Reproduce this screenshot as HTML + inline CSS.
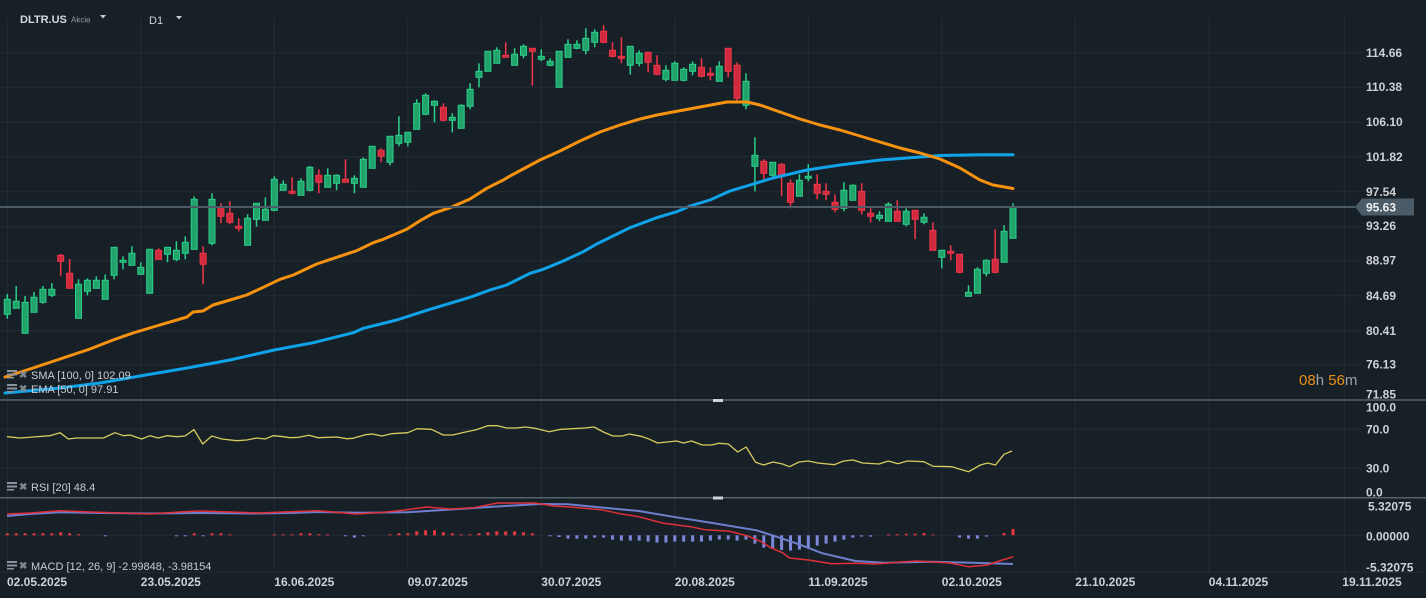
<!DOCTYPE html>
<html><head><meta charset="utf-8"><style>
html,body{margin:0;padding:0;background:#182027;}
svg{display:block;font-family:"Liberation Sans",sans-serif;}
.ax{fill:#cdd1d5;font-size:12px;font-weight:bold;}
.lg{fill:#c8ccd0;font-size:11px;}
.g line{stroke:#2bd08a;stroke-width:1.5}
.g rect{fill:#22a36b;stroke:#2bd08a;stroke-width:1}
.r line{stroke:#f2364a;stroke-width:1.5}
.r rect{fill:#cf2a3e;stroke:#f2364a;stroke-width:1}
</style></head><body>
<svg width="1426" height="598" viewBox="0 0 1426 598" xmlns="http://www.w3.org/2000/svg">
<rect x="0" y="0" width="1426" height="598" fill="#182027"/>
<!-- vertical grid -->
<g stroke="#222c35" stroke-width="1">
<line x1="7.3" y1="18" x2="7.3" y2="572"/><line x1="140.8" y1="18" x2="140.8" y2="572"/><line x1="274.3" y1="18" x2="274.3" y2="572"/><line x1="407.8" y1="18" x2="407.8" y2="572"/><line x1="541.3" y1="18" x2="541.3" y2="572"/><line x1="674.8" y1="18" x2="674.8" y2="572"/><line x1="808.3" y1="18" x2="808.3" y2="572"/><line x1="941.8" y1="18" x2="941.8" y2="572"/><line x1="1075.3" y1="18" x2="1075.3" y2="572"/><line x1="1208.8" y1="18" x2="1208.8" y2="572"/><line x1="1344.3" y1="18" x2="1344.3" y2="572"/>
<!-- horizontal grid -->
<line x1="0" y1="52.7" x2="1362" y2="52.7"/><line x1="0" y1="87.3" x2="1362" y2="87.3"/><line x1="0" y1="122.3" x2="1362" y2="122.3"/><line x1="0" y1="156.7" x2="1362" y2="156.7"/><line x1="0" y1="191.7" x2="1362" y2="191.7"/><line x1="0" y1="226.7" x2="1362" y2="226.7"/><line x1="0" y1="261" x2="1362" y2="261"/><line x1="0" y1="295.7" x2="1362" y2="295.7"/><line x1="0" y1="330.7" x2="1362" y2="330.7"/><line x1="0" y1="364.7" x2="1362" y2="364.7"/>
<line x1="0" y1="429.3" x2="1362" y2="429.3"/><line x1="0" y1="468.3" x2="1362" y2="468.3"/>
<line x1="0" y1="535.3" x2="1362" y2="535.3"/><line x1="0" y1="572.3" x2="1426" y2="572.3"/>
</g>
<!-- header -->
<text x="20" y="23" fill="#d5d8dc" font-size="11" font-weight="bold">DLTR.US</text>
<text x="71" y="22.5" fill="#8e9aa4" font-size="8">Akcie</text>
<polygon points="100,15 106,15 103,18.5" fill="#c8ccd0"/>
<text x="149" y="24" fill="#d0d3d6" font-size="11">D1</text>
<polygon points="176,16 182,16 179,19.5" fill="#c8ccd0"/>

<!-- candles -->
<g class="g"><line x1="7.3" y1="294" x2="7.3" y2="318.7"/><rect x="4.3" y="299.3" width="6" height="15"/></g>
<g class="g"><line x1="16.2" y1="286" x2="16.2" y2="308.3"/><rect x="13.2" y="301.3" width="6" height="7"/></g>
<g class="g"><line x1="25.1" y1="296" x2="25.1" y2="333.3"/><rect x="22.1" y="302.3" width="6" height="31"/></g>
<g class="g"><line x1="34" y1="292" x2="34" y2="312.3"/><rect x="31" y="297.3" width="6" height="15"/></g>
<g class="g"><line x1="42.9" y1="286" x2="42.9" y2="303.7"/><rect x="39.9" y="289.3" width="6" height="13"/></g>
<g class="g"><line x1="51.8" y1="283" x2="51.8" y2="297"/><rect x="48.8" y="289.3" width="6" height="6"/></g>
<g class="r"><line x1="60.7" y1="254" x2="60.7" y2="275.7"/><rect x="57.7" y="255.3" width="6" height="6"/></g>
<g class="r"><line x1="69.6" y1="259" x2="69.6" y2="288.3"/><rect x="66.6" y="273.3" width="6" height="15"/></g>
<g class="g"><line x1="78.5" y1="279.3" x2="78.5" y2="318.3"/><rect x="75.5" y="284.3" width="6" height="34"/></g>
<g class="g"><line x1="87.4" y1="278.3" x2="87.4" y2="295.3"/><rect x="84.4" y="280.3" width="6" height="11"/></g>
<g class="g"><line x1="96.3" y1="276.3" x2="96.3" y2="288.3"/><rect x="93.3" y="280.3" width="6" height="8"/></g>
<g class="g"><line x1="105.2" y1="274.3" x2="105.2" y2="299.3"/><rect x="102.2" y="280.3" width="6" height="19"/></g>
<g class="g"><line x1="114.1" y1="247.3" x2="114.1" y2="279.3"/><rect x="111.1" y="247.3" width="6" height="28"/></g>
<g class="g"><line x1="123" y1="256.3" x2="123" y2="269.3"/><rect x="120" y="260.3" width="6" height="2"/></g>
<g class="g"><line x1="131.9" y1="246.3" x2="131.9" y2="265.3"/><rect x="128.9" y="253.3" width="6" height="12"/></g>
<g class="g"><line x1="140.8" y1="262.3" x2="140.8" y2="274.3"/><rect x="137.8" y="267.3" width="6" height="7"/></g>
<g class="g"><line x1="149.7" y1="249.3" x2="149.7" y2="293.3"/><rect x="146.7" y="249.3" width="6" height="44"/></g>
<g class="r"><line x1="158.6" y1="248.3" x2="158.6" y2="259.3"/><rect x="155.6" y="250.3" width="6" height="9"/></g>
<g class="g"><line x1="167.5" y1="247.3" x2="167.5" y2="262.3"/><rect x="164.5" y="247.3" width="6" height="7"/></g>
<g class="g"><line x1="176.4" y1="241.3" x2="176.4" y2="261.3"/><rect x="173.4" y="250.3" width="6" height="9"/></g>
<g class="g"><line x1="185.3" y1="236.3" x2="185.3" y2="259.3"/><rect x="182.3" y="242.3" width="6" height="11"/></g>
<g class="g"><line x1="194.2" y1="196.3" x2="194.2" y2="249.3"/><rect x="191.2" y="199.3" width="6" height="50"/></g>
<g class="r"><line x1="203.1" y1="246.3" x2="203.1" y2="284.3"/><rect x="200.1" y="253.3" width="6" height="11"/></g>
<g class="g"><line x1="212" y1="193.3" x2="212" y2="245.3"/><rect x="209" y="199.3" width="6" height="44"/></g>
<g class="r"><line x1="220.9" y1="203.3" x2="220.9" y2="223.3"/><rect x="217.9" y="207.3" width="6" height="9"/></g>
<g class="r"><line x1="229.8" y1="201.3" x2="229.8" y2="224.3"/><rect x="226.8" y="213.3" width="6" height="9"/></g>
<g class="r"><line x1="238.7" y1="218.3" x2="238.7" y2="231.3"/><rect x="235.7" y="226.3" width="6" height="2"/></g>
<g class="g"><line x1="247.6" y1="214.3" x2="247.6" y2="245.3"/><rect x="244.6" y="218.3" width="6" height="27"/></g>
<g class="g"><line x1="256.5" y1="203.3" x2="256.5" y2="226.7"/><rect x="253.5" y="203.3" width="6" height="16"/></g>
<g class="g"><line x1="265.4" y1="197.3" x2="265.4" y2="220.3"/><rect x="262.4" y="209.3" width="6" height="11"/></g>
<g class="g"><line x1="274.3" y1="176.3" x2="274.3" y2="211.3"/><rect x="271.3" y="179.3" width="6" height="31"/></g>
<g class="g"><line x1="283.2" y1="180.3" x2="283.2" y2="190.3"/><rect x="280.2" y="184.3" width="6" height="6"/></g>
<g class="r"><line x1="292.1" y1="177.3" x2="292.1" y2="194.3"/><rect x="289.1" y="191.3" width="6" height="2"/></g>
<g class="g"><line x1="301" y1="178.3" x2="301" y2="195.3"/><rect x="298" y="181.3" width="6" height="14"/></g>
<g class="g"><line x1="309.9" y1="166" x2="309.9" y2="191.3"/><rect x="306.9" y="167.3" width="6" height="23"/></g>
<g class="r"><line x1="318.8" y1="169.3" x2="318.8" y2="193.3"/><rect x="315.8" y="175.3" width="6" height="7"/></g>
<g class="g"><line x1="327.7" y1="168.3" x2="327.7" y2="187.3"/><rect x="324.7" y="175.3" width="6" height="12"/></g>
<g class="g"><line x1="336.6" y1="174.3" x2="336.6" y2="190.3"/><rect x="333.6" y="175.3" width="6" height="8"/></g>
<g class="r"><line x1="345.5" y1="159.3" x2="345.5" y2="182.3"/><rect x="342.5" y="179.3" width="6" height="3"/></g>
<g class="g"><line x1="354.4" y1="175.3" x2="354.4" y2="193.3"/><rect x="351.4" y="178.3" width="6" height="5"/></g>
<g class="g"><line x1="363.3" y1="157.3" x2="363.3" y2="187.3"/><rect x="360.3" y="159.3" width="6" height="28"/></g>
<g class="g"><line x1="372.2" y1="146.3" x2="372.2" y2="168.3"/><rect x="369.2" y="146.3" width="6" height="22"/></g>
<g class="r"><line x1="381.1" y1="148.3" x2="381.1" y2="162.3"/><rect x="378.1" y="150.3" width="6" height="6"/></g>
<g class="g"><line x1="390" y1="136.3" x2="390" y2="165.3"/><rect x="387" y="136.3" width="6" height="26"/></g>
<g class="g"><line x1="398.9" y1="116.3" x2="398.9" y2="146.3"/><rect x="395.9" y="135.3" width="6" height="8"/></g>
<g class="g"><line x1="407.8" y1="132.3" x2="407.8" y2="146.3"/><rect x="404.8" y="132.3" width="6" height="10"/></g>
<g class="g"><line x1="416.7" y1="99.3" x2="416.7" y2="129.3"/><rect x="413.7" y="103.3" width="6" height="26"/></g>
<g class="g"><line x1="425.6" y1="93.3" x2="425.6" y2="115.3"/><rect x="422.6" y="95.3" width="6" height="19"/></g>
<g class="g"><line x1="434.5" y1="100.3" x2="434.5" y2="122.3"/><rect x="431.5" y="101.3" width="6" height="4"/></g>
<g class="r"><line x1="443.4" y1="103.3" x2="443.4" y2="121.3"/><rect x="440.4" y="107.3" width="6" height="13"/></g>
<g class="g"><line x1="452.3" y1="113.3" x2="452.3" y2="132.3"/><rect x="449.3" y="117.3" width="6" height="3"/></g>
<g class="g"><line x1="461.2" y1="104.3" x2="461.2" y2="128.3"/><rect x="458.2" y="105.3" width="6" height="23"/></g>
<g class="g"><line x1="470.1" y1="83.3" x2="470.1" y2="109.3"/><rect x="467.1" y="89.3" width="6" height="17"/></g>
<g class="g"><line x1="479" y1="63.3" x2="479" y2="87.3"/><rect x="476" y="71.3" width="6" height="6"/></g>
<g class="g"><line x1="487.9" y1="51.3" x2="487.9" y2="71.3"/><rect x="484.9" y="51.3" width="6" height="20"/></g>
<g class="g"><line x1="496.8" y1="47.3" x2="496.8" y2="63.3"/><rect x="493.8" y="50.3" width="6" height="13"/></g>
<g class="r"><line x1="505.7" y1="42.3" x2="505.7" y2="57.3"/><rect x="502.7" y="55.3" width="6" height="2"/></g>
<g class="g"><line x1="514.6" y1="48.3" x2="514.6" y2="65.3"/><rect x="511.6" y="54.3" width="6" height="11"/></g>
<g class="g"><line x1="523.5" y1="44.3" x2="523.5" y2="58.3"/><rect x="520.5" y="46.3" width="6" height="9"/></g>
<g class="r"><line x1="532.4" y1="48.3" x2="532.4" y2="85.7"/><rect x="529.4" y="48.3" width="6" height="3"/></g>
<g class="g"><line x1="541.3" y1="49.3" x2="541.3" y2="61.3"/><rect x="538.3" y="56.3" width="6" height="3"/></g>
<g class="g"><line x1="550.2" y1="58.3" x2="550.2" y2="66.3"/><rect x="547.2" y="61.3" width="6" height="4"/></g>
<g class="g"><line x1="559.1" y1="51.3" x2="559.1" y2="87.3"/><rect x="556.1" y="51.3" width="6" height="36"/></g>
<g class="g"><line x1="568" y1="39.3" x2="568" y2="57.3"/><rect x="565" y="44.3" width="6" height="13"/></g>
<g class="g"><line x1="576.9" y1="40.3" x2="576.9" y2="49.3"/><rect x="573.9" y="44.3" width="6" height="4"/></g>
<g class="g"><line x1="585.8" y1="28.3" x2="585.8" y2="54.3"/><rect x="582.8" y="38.3" width="6" height="12"/></g>
<g class="g"><line x1="594.7" y1="29.3" x2="594.7" y2="47.3"/><rect x="591.7" y="32.3" width="6" height="10"/></g>
<g class="r"><line x1="603.6" y1="25.3" x2="603.6" y2="43.3"/><rect x="600.6" y="31.3" width="6" height="11"/></g>
<g class="r"><line x1="612.5" y1="42.3" x2="612.5" y2="57.3"/><rect x="609.5" y="50.3" width="6" height="6"/></g>
<g class="r"><line x1="621.4" y1="37.3" x2="621.4" y2="63.3"/><rect x="618.4" y="56.3" width="6" height="2"/></g>
<g class="g"><line x1="630.3" y1="46.3" x2="630.3" y2="74.7"/><rect x="627.3" y="46.3" width="6" height="19"/></g>
<g class="g"><line x1="639.2" y1="50.3" x2="639.2" y2="66.3"/><rect x="636.2" y="53.3" width="6" height="10"/></g>
<g class="r"><line x1="648.1" y1="52.3" x2="648.1" y2="72.3"/><rect x="645.1" y="52.3" width="6" height="10"/></g>
<g class="r"><line x1="657" y1="55.3" x2="657" y2="75.3"/><rect x="654" y="65.3" width="6" height="9"/></g>
<g class="g"><line x1="665.9" y1="65.3" x2="665.9" y2="81.3"/><rect x="662.9" y="70.3" width="6" height="9"/></g>
<g class="g"><line x1="674.8" y1="61.3" x2="674.8" y2="80.3"/><rect x="671.8" y="63.3" width="6" height="17"/></g>
<g class="g"><line x1="683.7" y1="67.3" x2="683.7" y2="81.3"/><rect x="680.7" y="69.3" width="6" height="11"/></g>
<g class="g"><line x1="692.6" y1="61.3" x2="692.6" y2="75.3"/><rect x="689.6" y="64.3" width="6" height="7"/></g>
<g class="r"><line x1="701.5" y1="58.3" x2="701.5" y2="77.3"/><rect x="698.5" y="67.3" width="6" height="9"/></g>
<g class="r"><line x1="710.4" y1="67.3" x2="710.4" y2="80.3"/><rect x="707.4" y="73.3" width="6" height="2"/></g>
<g class="g"><line x1="719.3" y1="61.3" x2="719.3" y2="81.3"/><rect x="716.3" y="66.3" width="6" height="15"/></g>
<g class="r"><line x1="728.2" y1="48.3" x2="728.2" y2="77.3"/><rect x="725.2" y="48.3" width="6" height="23"/></g>
<g class="r"><line x1="737.1" y1="62.3" x2="737.1" y2="101.7"/><rect x="734.1" y="65.3" width="6" height="33"/></g>
<g class="g"><line x1="746" y1="73.3" x2="746" y2="109.3"/><rect x="743" y="81.3" width="6" height="24"/></g>
<g class="g"><line x1="754.9" y1="137.3" x2="754.9" y2="191.3"/><rect x="751.9" y="155.3" width="6" height="11"/></g>
<g class="r"><line x1="763.8" y1="159.3" x2="763.8" y2="179.3"/><rect x="760.8" y="161.3" width="6" height="12"/></g>
<g class="g"><line x1="772.7" y1="162.3" x2="772.7" y2="177.3"/><rect x="769.7" y="162.3" width="6" height="13"/></g>
<g class="r"><line x1="781.6" y1="163.3" x2="781.6" y2="196.3"/><rect x="778.6" y="164.3" width="6" height="12"/></g>
<g class="r"><line x1="790.5" y1="179.3" x2="790.5" y2="208.3"/><rect x="787.5" y="183.3" width="6" height="19"/></g>
<g class="g"><line x1="799.4" y1="174.3" x2="799.4" y2="196.3"/><rect x="796.4" y="180.3" width="6" height="16"/></g>
<g class="g"><line x1="808.3" y1="164.3" x2="808.3" y2="181.3"/><rect x="805.3" y="176.3" width="6" height="2"/></g>
<g class="r"><line x1="817.2" y1="174.3" x2="817.2" y2="199.3"/><rect x="814.2" y="184.3" width="6" height="9"/></g>
<g class="r"><line x1="826.1" y1="183.3" x2="826.1" y2="200.3"/><rect x="823.1" y="191.3" width="6" height="3"/></g>
<g class="r"><line x1="835" y1="194.3" x2="835" y2="212.3"/><rect x="832" y="202.3" width="6" height="7"/></g>
<g class="g"><line x1="843.9" y1="182.3" x2="843.9" y2="211.3"/><rect x="840.9" y="190.3" width="6" height="18"/></g>
<g class="g"><line x1="852.8" y1="184.3" x2="852.8" y2="200.3"/><rect x="849.8" y="185.3" width="6" height="15"/></g>
<g class="r"><line x1="861.7" y1="183.3" x2="861.7" y2="214.3"/><rect x="858.7" y="191.3" width="6" height="19"/></g>
<g class="r"><line x1="870.6" y1="208.3" x2="870.6" y2="222.3"/><rect x="867.6" y="213.3" width="6" height="3"/></g>
<g class="g"><line x1="879.5" y1="211.3" x2="879.5" y2="221.3"/><rect x="876.5" y="215.3" width="6" height="3"/></g>
<g class="g"><line x1="888.4" y1="202.3" x2="888.4" y2="221.3"/><rect x="885.4" y="204.3" width="6" height="17"/></g>
<g class="r"><line x1="897.3" y1="200.3" x2="897.3" y2="221.3"/><rect x="894.3" y="211.3" width="6" height="10"/></g>
<g class="g"><line x1="906.2" y1="208.3" x2="906.2" y2="226.3"/><rect x="903.2" y="211.3" width="6" height="13"/></g>
<g class="r"><line x1="915.1" y1="210.3" x2="915.1" y2="239.3"/><rect x="912.1" y="210.3" width="6" height="9"/></g>
<g class="g"><line x1="924" y1="213.3" x2="924" y2="224.3"/><rect x="921" y="217.3" width="6" height="5"/></g>
<g class="r"><line x1="932.9" y1="222.3" x2="932.9" y2="250.3"/><rect x="929.9" y="230.3" width="6" height="20"/></g>
<g class="g"><line x1="941.8" y1="250.3" x2="941.8" y2="268.3"/><rect x="938.8" y="250.3" width="6" height="7"/></g>
<g class="r"><line x1="950.7" y1="245.3" x2="950.7" y2="260.3"/><rect x="947.7" y="251.3" width="6" height="2"/></g>
<g class="r"><line x1="959.6" y1="254.3" x2="959.6" y2="273.3"/><rect x="956.6" y="254.3" width="6" height="18"/></g>
<g class="g"><line x1="968.5" y1="285.3" x2="968.5" y2="296.3"/><rect x="965.5" y="292.3" width="6" height="4"/></g>
<g class="g"><line x1="977.4" y1="267.3" x2="977.4" y2="293.3"/><rect x="974.4" y="269.3" width="6" height="24"/></g>
<g class="g"><line x1="986.3" y1="259.3" x2="986.3" y2="276.3"/><rect x="983.3" y="260.3" width="6" height="13"/></g>
<g class="r"><line x1="995.2" y1="229.3" x2="995.2" y2="273.3"/><rect x="992.2" y="259.3" width="6" height="13"/></g>
<g class="g"><line x1="1004.1" y1="225.3" x2="1004.1" y2="262.3"/><rect x="1001.1" y="231.3" width="6" height="31"/></g>
<g class="g"><line x1="1013" y1="203.3" x2="1013" y2="238.3"/><rect x="1010" y="207.3" width="6" height="31"/></g>

<!-- SMA 100 (blue) -->
<polyline fill="none" stroke="#0fa3ea" stroke-width="3" stroke-linejoin="round" stroke-linecap="round" points="5,393 60,388 100,383 140,376 187,368 230,360 274.3,350 313.3,342.7 353.3,332.7 363.3,328.3 396.7,320 430,309.3 470,297.3 490,290 506.7,285 530,273.3 543.3,269.3 563.3,261 583.3,251.7 596.7,244 630,227.7 656.7,217.7 676.7,211.7 690,206 710,200 730,191 750,185 773,178 807,170 840,165 880,160 920,157 940,155.5 980,154.8 1013,154.8"/>
<!-- EMA 50 (orange) -->
<polyline fill="none" stroke="#f7920f" stroke-width="3" stroke-linejoin="round" stroke-linecap="round" points="5,377 30,369 57,360 90,349 113,340 133,333 153,327 187,317 193,312 203,311 213,305 230,300 246.7,295 263.3,287.3 280,279.3 293.3,275 316.7,264 336.7,257.3 356.7,250.7 373.3,242.7 383.3,239.3 406.7,229.3 420,220.7 433.3,213.3 450,207.7 470,199 486.7,188.3 503.3,180 510,176 540,160 560,151 580,141 600,132 620,125 640,119 657,115 673,112 700,107 727,102 747,102 760,105 780,112 800,119 820,125 840,130 860,136 880,142 900,148 920,153 940,159 960,168 980,180 993,185 1013,188.5"/>

<!-- current price line -->
<line x1="0" y1="207" x2="1355" y2="207" stroke="#4d5b66" stroke-width="2"/>
<polygon points="1355,207 1362,198.5 1414,198.5 1414,215.5 1362,215.5" fill="#4b5b67"/>
<text x="1366" y="211.5" fill="#eceef0" font-size="12" font-weight="bold">95.63</text>

<!-- price axis labels -->
<g class="ax">
<text x="1366" y="57">114.66</text>
<text x="1366" y="91">110.38</text>
<text x="1366" y="126">106.10</text>
<text x="1366" y="161">101.82</text>
<text x="1366" y="196">97.54</text>
<text x="1366" y="230">93.26</text>
<text x="1366" y="264.5">88.97</text>
<text x="1366" y="300">84.69</text>
<text x="1366" y="335">80.41</text>
<text x="1366" y="368.5">76.13</text>
<text x="1366" y="398.5">71.85</text>
<text x="1366" y="411.5">100.0</text>
<text x="1366" y="433.5">70.0</text>
<text x="1366" y="472.5">30.0</text>
<text x="1366" y="496.5">0.0</text>
<text x="1368" y="510.5">5.32075</text>
<text x="1366" y="540.5">0.00000</text>
<text x="1366" y="571.5">-5.32075</text>
</g>

<!-- countdown -->
<text x="1299" y="385" font-size="15"><tspan fill="#ec8e16">08</tspan><tspan fill="#9aa4ac">h </tspan><tspan fill="#ec8e16">56</tspan><tspan fill="#9aa4ac">m</tspan></text>

<!-- legends main -->
<g fill="#8a949c">
<rect x="7" y="370" width="10" height="2"/><rect x="7" y="373.5" width="10" height="2"/><rect x="7" y="377" width="7" height="1.5"/>
<rect x="7" y="384" width="10" height="2"/><rect x="7" y="387.5" width="10" height="2"/><rect x="7" y="391" width="7" height="1.5"/>
<rect x="7" y="482" width="10" height="2"/><rect x="7" y="485.5" width="10" height="2"/><rect x="7" y="489" width="7" height="1.5"/>
<rect x="7" y="561" width="10" height="2"/><rect x="7" y="564.5" width="10" height="2"/><rect x="7" y="568" width="7" height="1.5"/>
</g>
<g fill="#7d868e" font-size="10" font-weight="bold">
<text x="19" y="378">✖</text><text x="19" y="392">✖</text><text x="19" y="490">✖</text><text x="19" y="569">✖</text>
</g>
<g class="lg">
<text x="31" y="379">SMA [100, 0] 102.09</text>
<text x="31" y="393">EMA [50, 0] 97.91</text>
<text x="31" y="491">RSI [20] 48.4</text>
<text x="31" y="570">MACD [12, 26, 9] -2.99848, -3.98154</text>
</g>

<!-- separators -->
<line x1="0" y1="400" x2="1426" y2="400" stroke="#56626c" stroke-width="1.5"/>
<line x1="0" y1="497.7" x2="1426" y2="497.7" stroke="#56626c" stroke-width="1.5"/>
<rect x="713" y="399" width="10" height="3" fill="#cfd3d6"/>
<rect x="713" y="496.5" width="10" height="3" fill="#cfd3d6"/>

<!-- RSI -->
<polyline fill="none" stroke="#d6cc5e" stroke-width="1.3" stroke-linejoin="round" points="7,436.7 20,438 33.3,437 50,435.7 60,432.7 68.3,439 76.7,438 103.3,438 115,432.7 123.3,435.7 130,435 141.7,439 150,435.7 158.3,438 166.7,435.7 176.7,436.7 185,436 194,429.7 202.7,444 211.7,436 221.7,439 236.7,440.7 246.7,440 256.7,438 265,439 273.3,435.7 283.3,436.7 290,437.7 299,437.3 308.8,435.3 318.3,437.7 337.1,437 346.5,438.7 353,438.3 365.4,434.7 372.5,434 381.9,436 391.3,433.7 407.8,432.7 417.2,428.7 431.4,429.3 443.2,435 452.6,435 464.4,432.3 476.1,429.7 487.9,425.7 497.4,425.7 506.8,428 516.2,428 525.6,427 535,428.3 549.2,431.7 561,429.3 572.8,428.7 584.5,428 594,427 603.4,432 612.8,436 622.2,436 629.3,434 641.1,436.3 648.2,438.7 657.6,443 667,442 676.4,441 683.5,443 691.5,441 702.3,445 711.8,445 718.8,443.3 728.3,444 737.7,452 746.2,447 755.6,462.3 763.6,465 773,462 782.5,464 789.5,466.7 799,462 808.4,461 817.8,463 834.3,464.7 843.7,461 853.1,460 862.6,463 879,464 888.5,461 897.9,463.7 907.3,461 923.8,461.7 933.2,466.3 952.1,466.7 959.2,469 968.6,471.7 980.4,465 987.5,463 995.5,465 1004,454.3 1012,451"/>

<!-- MACD histogram -->
<g fill="#e53940">
<rect x="5.8" y="533.3" width="3" height="2"/><rect x="14.7" y="533.3" width="3" height="2"/><rect x="23.6" y="533.3" width="3" height="2"/><rect x="32.5" y="533.3" width="3" height="2"/><rect x="41.4" y="533.3" width="3" height="2"/><rect x="50.3" y="533.3" width="3" height="2"/><rect x="59.2" y="532.3" width="3" height="3"/><rect x="68.1" y="533.3" width="3" height="2"/><rect x="77" y="534.3" width="3" height="1"/>
<rect x="192.7" y="533.3" width="3" height="2"/><rect x="210.5" y="533.3" width="3" height="2"/><rect x="219.4" y="533.3" width="3" height="2"/><rect x="228.3" y="534.3" width="3" height="1"/>
<rect x="272.8" y="534.3" width="3" height="1"/><rect x="281.7" y="534.3" width="3" height="1"/><rect x="290.6" y="534.3" width="3" height="1"/><rect x="299.5" y="533.3" width="3" height="2"/><rect x="308.4" y="533.3" width="3" height="2"/><rect x="317.3" y="534.3" width="3" height="1"/><rect x="326.2" y="534.3" width="3" height="1"/>
<rect x="388.5" y="534.3" width="3" height="1"/><rect x="397.4" y="533.3" width="3" height="2"/><rect x="406.3" y="533.3" width="3" height="2"/><rect x="415.2" y="531.3" width="3" height="4"/><rect x="424.1" y="530.3" width="3" height="5"/><rect x="433" y="530.3" width="3" height="5"/><rect x="441.9" y="532.3" width="3" height="3"/><rect x="450.8" y="533.3" width="3" height="2"/><rect x="459.7" y="534.3" width="3" height="1"/><rect x="468.6" y="534.3" width="3" height="1"/><rect x="477.5" y="533.3" width="3" height="2"/><rect x="486.4" y="532.3" width="3" height="3"/><rect x="495.3" y="531.3" width="3" height="4"/><rect x="504.2" y="531.3" width="3" height="4"/><rect x="513.1" y="531.3" width="3" height="4"/><rect x="522" y="532.3" width="3" height="3"/><rect x="530.9" y="533.3" width="3" height="2"/>
<rect x="886.9" y="534.3" width="3" height="1"/><rect x="895.8" y="534.3" width="3" height="1"/><rect x="904.7" y="533.8" width="3" height="1.5"/><rect x="913.6" y="533.8" width="3" height="1.5"/><rect x="922.5" y="533" width="3" height="2.3"/><rect x="931.4" y="534.5" width="3" height="0.8"/>
<rect x="1002.6" y="533" width="3" height="2.3"/><rect x="1011.5" y="529" width="3" height="6.3"/>
</g>
<g fill="#7c87d9">
<rect x="103.7" y="535.3" width="3" height="1"/><rect x="174.9" y="535.3" width="3" height="1"/><rect x="183.8" y="535.3" width="3" height="1"/><rect x="201.6" y="535.3" width="3" height="1"/>
<rect x="344" y="535.3" width="3" height="1"/><rect x="352.9" y="535.3" width="3" height="2.3"/><rect x="361.8" y="535.3" width="3" height="1"/>
<rect x="548.7" y="535.3" width="3" height="1"/><rect x="557.6" y="535.3" width="3" height="1.7"/><rect x="566.5" y="535.3" width="3" height="3.3"/><rect x="575.4" y="535.3" width="3" height="3.3"/><rect x="584.3" y="535.3" width="3" height="3.3"/><rect x="593.2" y="535.3" width="3" height="2.3"/><rect x="602.1" y="535.3" width="3" height="2.3"/><rect x="611" y="535.3" width="3" height="4.3"/><rect x="619.9" y="535.3" width="3" height="5.3"/><rect x="628.8" y="535.3" width="3" height="5.3"/><rect x="637.7" y="535.3" width="3" height="5.3"/><rect x="646.6" y="535.3" width="3" height="6.3"/><rect x="655.5" y="535.3" width="3" height="7.3"/><rect x="664.4" y="535.3" width="3" height="7.3"/><rect x="673.3" y="535.3" width="3" height="6.3"/><rect x="682.2" y="535.3" width="3" height="6.3"/><rect x="691.1" y="535.3" width="3" height="6.3"/><rect x="700" y="535.3" width="3" height="6.3"/><rect x="708.9" y="535.3" width="3" height="5.3"/><rect x="717.8" y="535.3" width="3" height="4.3"/><rect x="726.7" y="535.3" width="3" height="4.3"/><rect x="735.6" y="535.3" width="3" height="5.3"/><rect x="744.5" y="535.3" width="3" height="4.3"/><rect x="753.4" y="535.3" width="3" height="8.3"/><rect x="762.3" y="535.3" width="3" height="12.3"/><rect x="771.2" y="535.3" width="3" height="13.7"/><rect x="780.1" y="535.3" width="3" height="14.7"/><rect x="789" y="535.3" width="3" height="15.3"/><rect x="797.9" y="535.3" width="3" height="14.3"/><rect x="806.8" y="535.3" width="3" height="12.3"/><rect x="815.7" y="535.3" width="3" height="10.3"/><rect x="824.6" y="535.3" width="3" height="8.3"/><rect x="833.5" y="535.3" width="3" height="6.3"/><rect x="842.4" y="535.3" width="3" height="4.3"/><rect x="851.3" y="535.3" width="3" height="2.3"/><rect x="860.2" y="535.3" width="3" height="1.3"/><rect x="869.1" y="535.3" width="3" height="1.3"/>
<rect x="958.1" y="535.3" width="3" height="2.3"/><rect x="967" y="535.3" width="3" height="3.3"/><rect x="975.9" y="535.3" width="3" height="3.3"/><rect x="984.8" y="535.3" width="3" height="1.3"/>
</g>
<!-- MACD signal -->
<polyline fill="none" stroke="#6f7fcf" stroke-width="2" stroke-linejoin="round" points="7,516 30,514 60,512.3 100,513 150,513.5 200,513 250,513.5 290,513 318,512 360.7,512.7 407.8,512.3 455,509.3 492.6,506.7 539.8,504 568,504.3 596.3,507 638.7,511 676.4,517.3 714.1,523.3 756.5,530.3 775.4,536.3 799,544.3 822.5,553.3 855.5,561 883.8,562.7 931,561.7 973.3,562.7 1013,564"/>
<!-- MACD line -->
<polyline fill="none" stroke="#e0303a" stroke-width="1.5" stroke-linejoin="round" points="7,514 30,513 60,510.7 90,512 120,513 150,514 180,512 200,511 230,512 260,513 290,511.7 318,510.7 356,514 384,512.3 403,510.3 426.7,507 450,509 473.8,507.7 497.4,503 535,503 554,506 572.8,507.3 601,509.7 620,513.7 638.7,516.7 662.3,523 690.6,526.7 704.7,529.7 728.3,531 747,535.7 761.3,541.7 770.7,547.7 782.5,552.7 789.5,558 808.4,560 832,563.7 855.5,563.3 874.3,564 898,562.3 916.8,561 949.8,563 968.6,566.7 987.5,565 999.2,561 1013.4,556.7"/>

<!-- date axis -->
<g class="ax">
<text x="7" y="586">02.05.2025</text>
<text x="140.8" y="586">23.05.2025</text>
<text x="274.3" y="586">16.06.2025</text>
<text x="407.8" y="586">09.07.2025</text>
<text x="541.3" y="586">30.07.2025</text>
<text x="674.8" y="586">20.08.2025</text>
<text x="808.3" y="586">11.09.2025</text>
<text x="941.8" y="586">02.10.2025</text>
<text x="1075.3" y="586">21.10.2025</text>
<text x="1208.8" y="586">04.11.2025</text>
<text x="1342.3" y="586">19.11.2025</text>
</g>
</svg>
</body></html>
